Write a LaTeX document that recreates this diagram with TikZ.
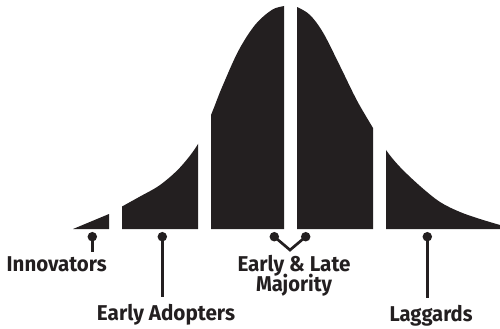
\documentclass[tikz,border=0pt]{standalone}
\usepackage{fontspec}
\setmainfont{Fira Sans}
\usepackage{graphicx}
\definecolor{ink}{RGB}{35,31,32}
\begin{document}
\begin{tikzpicture}[x=1bp,y=-1bp,
  seg/.style={fill=ink},
  dotn/.style={circle,fill=ink,inner sep=0pt,minimum size=9.5bp},
  lead/.style={draw=ink,line width=2.7bp},
  lbl/.style={anchor=base,inner sep=0pt,text=ink,font=\fontsize{21.5}{24}\selectfont\bfseries}]
\useasboundingbox (0,0) rectangle (500,328);
% curve segments
\fill[seg] (73,229) -- (109,214) -- (109,229) -- cycle;
\foreach \a/\b in {122/198,211/284,297/373,386/500}{
  \begin{scope}
    \clip (\a,0) rectangle (\b,229);
    \fill[seg] (109,229) -- plot[smooth,tension=0.55] coordinates {
      (109,214) (122,206.5) (140,196.5) (160,185) (180,167.5) (198,144)
      (211,115) (221.7,88) (238.3,51) (255,25) (271.7,10) (284,6)
      (290,5) (297,7) (310,15) (323.3,33) (340,66) (356.7,100)
      (373,128) (386,150) (400,167) (420,186) (440,202) (460,212)
      (480,219) (500,225)} -- (500,229) -- cycle;
  \end{scope}
}
% dots
\node[dotn] (dinn) at (92.3,236.7) {};
\node[dotn] (dea) at (162.3,236.7) {};
\node[dotn] (dem) at (274.3,236.7) {};
\node[dotn] (dlm) at (305.7,236.7) {};
\node[dotn] (dlag) at (427.3,236.7) {};
% labels
\node[lbl] (linn) at (56.7,271.7) {\resizebox{100bp}{\height}{Innovators}};
\node[lbl] (lea) at (166,320) {\resizebox{138bp}{\height}{Early Adopters}};
\node[lbl] (lmaj1) at (294,271.7) {\resizebox{113bp}{\height}{Early \& Late}};
\node[lbl] (lmaj2) at (294,291.7) {\resizebox{76bp}{\height}{Majority}};
\node[lbl] (llag) at (431,321.7) {\resizebox{83bp}{\height}{Laggards}};
% connectors
\coordinate (cinn) at (92.3,252);
\coordinate (cea) at (162.3,297);
\coordinate (cmaj) at (290,250);
\coordinate (clag) at (427.3,298);
\draw[lead] (dinn.center) -- (cinn);
\draw[lead] (dea.center) -- (cea);
\draw[lead,line join=miter] (dem.center) -- (cmaj) -- (dlm.center);
\draw[lead] (dlag.center) -- (clag);
\end{tikzpicture}
\end{document}
